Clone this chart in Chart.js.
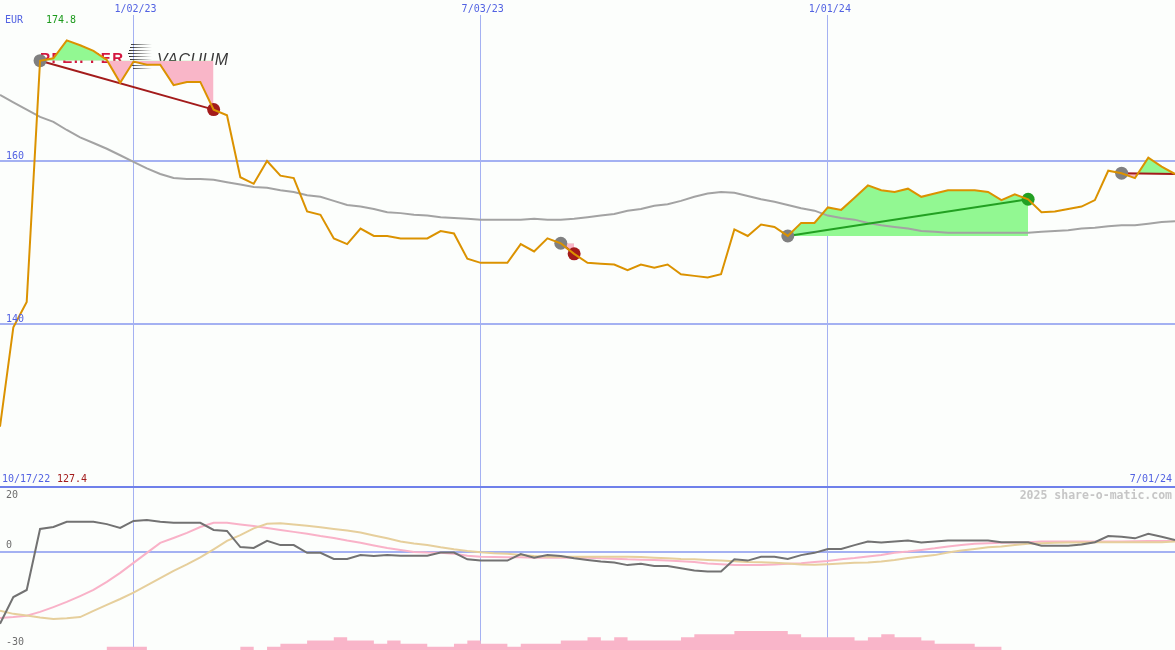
<!DOCTYPE html>
<html>
<head>
<meta charset="utf-8">
<title>Pfeiffer Vacuum</title>
<script src="https://cdn.jsdelivr.net/npm/chart.js"></script>
<style>
    html, body {
        margin: 0;
        padding: 0;
        background: #fcfefc;
    }

    .wrap {
        position: relative;
        width: 1175px;
        height: 650px;
        overflow: hidden;
    }

    .wrap canvas {
        position: absolute;
        left: 0;
        top: 0;
    }
</style>
</head>
<body>
<div class="wrap">
    <canvas id="priceChart" width="1175" height="650"></canvas>
    <canvas id="oscChart" width="1175" height="650"></canvas>
</div>
<script>
    // labels
    const currency = 'EUR';
    const gridDates = ['1/02/23', '7/03/23', '1/01/24'];
    const rangeLabels = ['10/17/22', '7/01/24'];
    const priceTicks = [140, 160];
    const oscLabels = [20, 0, -30];
    const oscGrid = [0, 20];
    const credit = '2025 share-o-matic.com';
    const logoWords = ['PFEIFFER', 'VACUUM'];

    // weekly closes (EUR)
    const price = [
        127.4, 139.6, 142.7, 172.3, 172.6, 174.8, 174.2, 173.5, 172.4, 169.6,
        172.2, 171.8, 171.8, 169.3, 169.7, 169.7, 166.3, 165.6, 158.0, 157.2,
        160.0, 158.2, 157.9, 153.8, 153.4, 150.5, 149.8, 151.7, 150.8, 150.8,
        150.5, 150.5, 150.5, 151.4, 151.1, 148.0, 147.5, 147.5, 147.5, 149.8,
        148.9, 150.5, 149.9, 148.6, 147.5, 147.4, 147.3, 146.6, 147.3, 146.9,
        147.3, 146.1, 145.9, 145.7, 146.1, 151.6, 150.8, 152.2, 151.9, 150.8,
        152.4, 152.4, 154.3, 154.0, 155.5, 157.0, 156.4, 156.2, 156.6, 155.6,
        156.0, 156.4, 156.4, 156.4, 156.2, 155.2, 155.9, 155.3, 153.7, 153.8,
        154.1, 154.4, 155.2, 158.8, 158.5, 157.9, 160.4, 159.3, 158.4
    ];

    // moving average
    const average = [
        168.1, 167.2, 166.3, 165.4, 164.8, 163.8, 162.9, 162.2, 161.5, 160.7,
        159.9, 159.1, 158.4, 157.9, 157.8, 157.8, 157.7, 157.4, 157.1, 156.8,
        156.7, 156.4, 156.2, 155.8, 155.6, 155.1, 154.6, 154.4, 154.1, 153.7,
        153.6, 153.4, 153.3, 153.1, 153.0, 152.9, 152.8, 152.8, 152.8, 152.8,
        152.9, 152.8, 152.8, 152.9, 153.1, 153.3, 153.5, 153.9, 154.1, 154.5,
        154.7, 155.1, 155.6, 156.0, 156.2, 156.1, 155.7, 155.3, 155.0, 154.6,
        154.2, 153.9, 153.3, 153.0, 152.8, 152.4, 152.1, 151.9, 151.7, 151.4,
        151.3, 151.2, 151.2, 151.2, 151.2, 151.2, 151.2, 151.2, 151.3, 151.4,
        151.5, 151.7, 151.8, 152.0, 152.1, 152.1, 152.3, 152.5, 152.6
    ];

    // lower panel
    const momentum = [
        -22.4, -14.1, -11.9, 7.0, 7.6, 9.2, 9.2, 9.2, 8.5, 7.3,
        9.5, 9.8, 9.2, 8.9, 8.9, 8.9, 6.7, 6.4, 1.4, 1.1,
        3.3, 2.0, 2.0, -0.4, -0.4, -2.3, -2.3, -1.1, -1.4, -1.1,
        -1.3, -1.3, -1.3, -0.3, -0.3, -2.4, -2.8, -2.8, -2.8, -0.8,
        -1.9, -1.1, -1.4, -2.1, -2.6, -3.1, -3.4, -4.2, -3.8, -4.5,
        -4.5, -5.2, -5.9, -6.2, -6.2, -2.4, -2.8, -1.6, -1.6, -2.3,
        -1.1, -0.4, 0.8, 0.8, 2.0, 3.1, 2.8, 3.1, 3.4, 2.8,
        3.1, 3.4, 3.4, 3.4, 3.4, 2.9, 2.9, 2.9, 1.8, 1.8,
        1.8, 2.2, 2.9, 4.8, 4.6, 4.1, 5.5, 4.6, 3.6
    ];
    const signalFast = [
        -20.6, -20.3, -19.9, -18.7, -17.2, -15.6, -13.8, -11.9, -9.4, -6.6,
        -3.5, -0.4, 2.7, 4.2, 5.8, 7.6, 8.9, 8.9, 8.4, 7.9,
        7.3, 6.7, 6.1, 5.5, 4.8, 4.2, 3.4, 2.7, 1.9, 1.1,
        0.5, -0.1, -0.3, -0.4, -0.7, -1.3, -1.6, -1.7, -1.8, -1.8,
        -1.9, -1.9, -1.9, -1.9, -1.9, -2.1, -2.2, -2.4, -2.5, -2.6,
        -2.8, -3.0, -3.2, -3.7, -3.9, -4.2, -4.2, -4.2, -4.0, -3.8,
        -3.6, -3.2, -2.9, -2.4, -2.0, -1.5, -1.1, -0.4, 0.0, 0.5,
        1.0, 1.6, 2.0, 2.4, 2.6, 2.7, 2.8, 2.9, 3.1, 3.1,
        3.1, 3.1, 3.1, 3.1, 3.1, 3.2, 3.3, 3.3, 3.3
    ];
    const signalSlow = [
        -18.3, -19.3, -19.8, -20.4, -20.9, -20.7, -20.3, -18.4, -16.5, -14.7,
        -12.7, -10.5, -8.2, -6.0, -4.0, -1.8, 0.7, 3.3, 5.1, 7.2,
        8.6, 8.8, 8.4, 8.0, 7.5, 7.0, 6.5, 5.9, 5.0, 4.1,
        3.1, 2.5, 2.0, 1.3, 0.7, 0.2, -0.2, -0.5, -0.7, -1.1,
        -1.4, -1.6, -1.6, -1.6, -1.6, -1.6, -1.6, -1.6, -1.7, -1.9,
        -2.1, -2.3, -2.4, -2.6, -2.8, -3.0, -3.2, -3.3, -3.5, -3.7,
        -4.0, -4.1, -3.9, -3.7, -3.5, -3.4, -3.1, -2.6, -2.0, -1.5,
        -1.1, -0.3, 0.3, 0.8, 1.3, 1.6, 2.0, 2.4, 2.6, 2.7,
        2.8, 2.8, 2.9, 2.9, 2.9, 2.9, 2.9, 2.9, 3.1
    ];
    const volume = [
        0, 0, 0, 0, 0, 0, 0, 0, 1, 1,
        1, 0, 0, 0, 0, 0, 0, 0, 1, 0,
        1, 2, 2, 3, 3, 4, 3, 3, 2, 3,
        2, 2, 1, 1, 2, 3, 2, 2, 1, 2,
        2, 2, 3, 3, 4, 3, 4, 3, 3, 3,
        3, 4, 5, 5, 5, 6, 6, 6, 6, 5,
        4, 4, 4, 4, 3, 4, 5, 4, 4, 3,
        2, 2, 2, 1, 1, 0, 0, 0, 0, 0,
        0, 0, 0, 0, 0, 0, 0, 0, 0
    ];

    // trades (week index of entry / exit)
    const tradeEntry = [3, 42, 59, 84];
    const tradeExit = [16, 43, 77, 88];
    const tradeClosed = [true, true, true, false];

    // weekly dates, Mondays
    const weeks = [];
    for (let i = 0; i < price.length; i++) {
        const d = new Date(2022, 9, 24 + 7 * i);
        weeks.push((d.getMonth() + 1) + '/' + String(d.getDate()).padStart(2, '0') + '/' + String(d.getFullYear()).slice(2));
    }

    const BG = '#fcfefc';
    const BLUE_TEXT = '#5262e2';
    const GRID = '#a4b1f2';
    const SEPARATOR = '#6f80ea';
    const GREEN_FILL = '#92f892';
    const PINK_FILL = '#f9b6c8';
    const LOSS = '#a31b1b';
    const WIN = '#22a022';
    const MONO = '"DejaVu Sans Mono", monospace';

    // trade fills + connecting lines + markers
    const tradeSets = [];
    const markerPts = [];
    const markerCols = [];
    tradeEntry.forEach((a, k) => {
        const b = tradeExit[k];
        const level = price[a];
        const win = price[b] > level;
        tradeSets.push({
            data: price.map((v, i) => (i >= a && i <= b ? v : null)),
            borderColor: 'transparent',
            borderWidth: 0,
            pointRadius: 0,
            fill: { target: { value: level }, above: GREEN_FILL, below: PINK_FILL },
            order: 4
        });
        tradeSets.push({
            data: [{ x: weeks[a], y: level }, { x: weeks[b], y: price[b] }],
            borderColor: win ? WIN : LOSS,
            borderWidth: 2,
            pointRadius: 0,
            order: 2
        });
        markerPts.push({ x: weeks[a], y: level });
        markerCols.push('#808080');
        if (tradeClosed[k]) {
            markerPts.push({ x: weeks[b], y: price[b] });
            markerCols.push(win ? WIN : LOSS);
        }
    });

    function drawLogo(ctx) {
        ctx.save();
        ctx.textBaseline = 'alphabetic';
        ctx.textAlign = 'left';
        ctx.font = 'bold 15px "Liberation Sans", Arial, sans-serif';
        ctx.letterSpacing = '1.5px';
        ctx.fillStyle = '#d3173f';
        ctx.fillText(logoWords[0], 40, 63);
        ctx.font = 'italic 16px "Liberation Sans", Arial, sans-serif';
        ctx.letterSpacing = '0.5px';
        ctx.fillStyle = '#3a3a3a';
        ctx.fillText(logoWords[1], 157, 65);
        // swoosh
        ctx.lineWidth = 1;
        for (let k = 0; k < 9; k++) {
            const g = ctx.createLinearGradient(128, 0, 152, 0);
            g.addColorStop(0, 'rgba(20,20,20,0.95)');
            g.addColorStop(1, 'rgba(20,20,20,0)');
            ctx.strokeStyle = g;
            const yy = 44.5 + k * 3;
            ctx.beginPath();
            ctx.moveTo(128 + Math.abs(k - 3), yy);
            ctx.lineTo(152, yy);
            ctx.stroke();
        }
        ctx.restore();
    }

    const priceText = {
        id: 'priceText',
        beforeDatasetsDraw(chart) {
            const ctx = chart.ctx;
            const x = chart.scales.x;
            // keep the grid lines clear of the date labels
            ctx.save();
            ctx.fillStyle = BG;
            gridDates.forEach(d => ctx.fillRect(x.getPixelForValue(weeks.indexOf(d)) - 4, 0, 8, 15));
            ctx.restore();
            drawLogo(ctx);
        },
        afterDraw(chart) {
            const ctx = chart.ctx;
            const x = chart.scales.x;
            const y = chart.scales.y;
            ctx.save();
            ctx.font = '10px ' + MONO;
            ctx.textBaseline = 'middle';
            ctx.textAlign = 'left';
            ctx.fillStyle = BLUE_TEXT;
            ctx.fillText(currency, 5, 20);
            ctx.fillStyle = '#1c9a1c';
            ctx.fillText(Math.max(...price).toFixed(1), 46, 20);
            ctx.fillStyle = BLUE_TEXT;
            ctx.textAlign = 'center';
            gridDates.forEach(d => ctx.fillText(d, x.getPixelForValue(weeks.indexOf(d)) + 2, 9));
            ctx.textAlign = 'left';
            priceTicks.forEach(v => ctx.fillText(String(v), 6, y.getPixelForValue(v) - 5));
            ctx.fillText(rangeLabels[0], 2, 479);
            ctx.fillStyle = LOSS;
            ctx.fillText(Math.min(...price).toFixed(1), 57, 479);
            ctx.fillStyle = BLUE_TEXT;
            ctx.textAlign = 'right';
            ctx.fillText(rangeLabels[1], 1172, 479);
            ctx.restore();
        }
    };

    const oscText = {
        id: 'oscText',
        afterDraw(chart) {
            const ctx = chart.ctx;
            const y = chart.scales.y;
            ctx.save();
            ctx.textBaseline = 'middle';
            ctx.font = 'bold 11.5px ' + MONO;
            ctx.fillStyle = '#c6c6c6';
            ctx.textAlign = 'right';
            ctx.fillText(credit, 1172, 496);
            ctx.font = '10px ' + MONO;
            ctx.fillStyle = '#6e6e6e';
            ctx.textAlign = 'left';
            oscLabels.forEach((v, i) => {
                const py = y.getPixelForValue(v);
                ctx.fillText(String(v), 6, i === 0 ? py + 8 : py - 6);
            });
            ctx.restore();
        }
    };

    const xAxis = {
        type: 'category',
        offset: false,
        border: { display: false },
        ticks: { display: false },
        grid: { color: GRID, lineWidth: 1, drawTicks: false, offset: false },
        afterBuildTicks: s => { s.ticks = gridDates.map(d => ({ value: weeks.indexOf(d) })); }
    };

    new Chart(document.getElementById('priceChart'), {
        type: 'line',
        data: {
            labels: weeks,
            datasets: [
                {
                    data: price,
                    borderColor: '#db9200',
                    borderWidth: 2,
                    pointRadius: 0,
                    tension: 0,
                    order: 0
                },
                {
                    data: markerPts,
                    showLine: false,
                    pointRadius: 6.5,
                    pointBackgroundColor: markerCols,
                    pointBorderWidth: 0,
                    pointBorderColor: 'transparent',
                    order: 1
                },
                {
                    data: average,
                    borderColor: '#a3a3a3',
                    borderWidth: 2,
                    pointRadius: 0,
                    order: 3
                },
                ...tradeSets
            ]
        },
        options: {
            responsive: false,
            animation: false,
            events: [],
            layout: { autoPadding: false, padding: { top: 0, left: 0, right: 0, bottom: 161 } },
            plugins: { legend: { display: false }, tooltip: { enabled: false } },
            scales: {
                x: xAxis,
                y: {
                    min: 119.75,
                    max: 179.75,
                    border: { display: false },
                    ticks: { display: false },
                    grid: { color: GRID, lineWidth: 2, drawTicks: false },
                    afterBuildTicks: s => { s.ticks = priceTicks.map(v => ({ value: v })); }
                }
            }
        },
        plugins: [priceText]
    });

    new Chart(document.getElementById('oscChart'), {
        type: 'line',
        data: {
            labels: weeks,
            datasets: [
                {
                    data: momentum,
                    borderColor: '#727272',
                    borderWidth: 2,
                    pointRadius: 0,
                    order: 0
                },
                {
                    data: signalSlow,
                    borderColor: '#e6cf9c',
                    borderWidth: 2,
                    pointRadius: 0,
                    order: 1
                },
                {
                    data: signalFast,
                    borderColor: '#f9b2c8',
                    borderWidth: 2,
                    pointRadius: 0,
                    order: 2
                },
                {
                    data: volume,
                    yAxisID: 'yVol',
                    stepped: 'before',
                    fill: 'origin',
                    backgroundColor: '#f9b5c9',
                    borderColor: 'transparent',
                    borderWidth: 0,
                    pointRadius: 0,
                    order: 3
                }
            ]
        },
        options: {
            responsive: false,
            animation: false,
            events: [],
            layout: { autoPadding: false, padding: { top: 480, left: 0, right: 0, bottom: 0 } },
            plugins: { legend: { display: false }, tooltip: { enabled: false } },
            scales: {
                x: xAxis,
                y: {
                    min: -30.5,
                    max: 22.17,
                    border: { display: false },
                    ticks: { display: false },
                    grid: {
                        color: c => (c.tick && c.tick.value === 20 ? SEPARATOR : GRID),
                        lineWidth: 2,
                        drawTicks: false
                    },
                    afterBuildTicks: s => { s.ticks = oscGrid.map(v => ({ value: v })); }
                },
                yVol: {
                    display: false,
                    min: 0,
                    max: 53.7
                }
            }
        },
        plugins: [oscText]
    });
</script>
</body>
</html>
